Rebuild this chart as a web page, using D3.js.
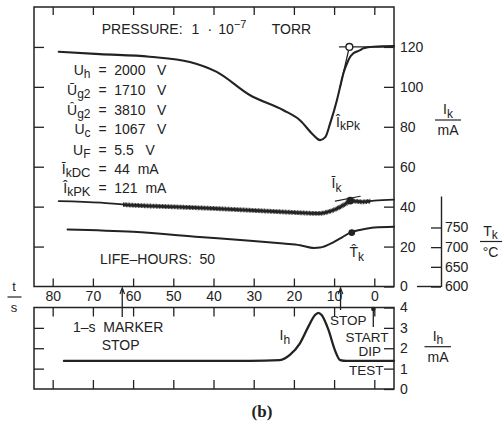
<!DOCTYPE html>
<html>
<head>
<meta charset="utf-8">
<script src="https://cdn.jsdelivr.net/npm/d3@7/dist/d3.min.js"></script>
<style>
  body { margin: 0; background: #fff; }
  svg text { font-family: "Liberation Sans", Arial, sans-serif; fill: #222; }
</style>
</head>
<body>
<svg id="chart" width="504" height="426"></svg>
<script>
// ---- axis ticks ----
const timeTicks = [80, 70, 60, 50, 40, 30, 20, 10, 0];          // t / s
const ikTicks   = [0, 20, 40, 60, 80, 100, 120];                // I_k / mA
const tempTicks = [600, 650, 700, 750];                         // T_k / °C
const ihTicks   = [0, 1, 2, 3, 4];                              // I_h / mA

// ---- cathode peak current Î_k (mA) vs time (s) ----
const ikPeakT = [78.5, 68.3, 55.9, 45.9, 39.2, 30.9, 22.6, 18.5, 15.1, 13.5, 12.2, 11.0, 9.3, 8.5, 7.7, 6.8, 6.0, 5.2, 3.5, 2.7, 0.2, -4.9];
const ikPeakV = [117.6, 116.4, 115.1, 112.5, 107.5, 95.8, 88.3, 83.3, 75.8, 73.3, 74.8, 81.6, 93.3, 100, 106.7, 111.7, 115.1, 116.8, 118.4, 119.3, 120.1, 120.4];

// construction for Î_kPk: tangent to the rising edge and the 120 mA level
const ikPeakTangentT = [8.5, 6.2];
const ikPeakTangentV = [100, 120];
const ikPeakLevelT = [8.65, -4.9];
const ikPeakLevelV = [120, 120];
const ikPeakMarkT = 6.2, ikPeakMarkV = 120;

// ---- mean cathode current Ī_k (mA) ----
const ikMeanT = [78.5, 68, 62.2, 50, 40, 30, 20, 14, 10, 7, 6, 3, 0, -4.9];
const ikMeanV = [42.8, 42.0, 41.0, 39.9, 39.1, 38.1, 37.1, 36.6, 38.4, 41.6, 42.9, 42.4, 43.0, 43.5];
const ikMeanRippleFrom = 62.5, ikMeanRippleTo = 1;   // span with ripple on the trace
const ikMeanMarkT = 6, ikMeanMarkV = 43.0;
const ikMeanBarT = [9.7, 3.5];
const ikMeanBarV = [42.8, 45.2];

// ---- peak cathode temperature T̂_k (°C) ----
const tkT = [76.3, 60, 43.5, 30.9, 22.6, 18.5, 15, 13.5, 10.1, 8, 6, 3, 0, -4.9];
const tkV = [745, 739, 726, 716, 709, 705, 698, 699, 713, 725, 737, 745, 750, 752];
const tkMarkT = 5.6, tkMarkV = 737;

// ---- heater current I_h (mA) ----
const ihT = [77.2, 30.9, 23.5, 21.0, 18.5, 16.4, 14.75, 13.9, 13.1, 11.4, 9.8, 8.5, 6.9, -4.9];
const ihV = [1.38, 1.38, 1.42, 1.67, 2.24, 3.06, 3.63, 3.74, 3.63, 2.9, 1.91, 1.42, 1.38, 1.38];

// event markers on the time axis
const markerStopT = [62.7, 8.4];   // 1-s marker stop, stop
const startT = 0.25;

// operating parameters
const paramSym  = ["U", "Ū", "Û", "U", "U", "Ī", "Î"];
const paramSub  = ["h", "g2", "g2", "c", "F", "k", "k"];
const paramSuf  = ["", "", "", "", "", "DC", "PK"];
const paramVal  = ["2000", "1710", "3810", "1067", "5.5", "44", "121"];
const paramUnit = ["V", "V", "V", "V", "V", "mA", "mA"];

// ---- layout ----
const INK = "#222";
const FONT = '"Liberation Sans", Arial, sans-serif';
const L = 34, R = 394;           // panel left / right
const T1 = 7, B1 = 286.5;        // upper panel
const T2 = 307.5, B2 = 389;      // lower panel

const x  = d3.scaleLinear().domain([84.65, -4.9]).range([L, R]);
const yK = d3.scaleLinear().domain([0, 140]).range([B1, T1]);
const yT = d3.scaleLinear().domain([600, 830]).range([B1, 196]);
const yH = d3.scaleLinear().domain([0, 4]).range([B2, T2]);

const svg = d3.select("#chart");

function styleAxis(g) {
  g.attr("font-size", 14).attr("font-family", FONT).attr("color", INK);
  g.selectAll(".tick line").attr("stroke-width", 1.3);
}
function noDomain(g) { g.select(".domain").remove(); }

// ---- upper panel frame and ticks ----
svg.append("rect").attr("x", L).attr("y", T1).attr("width", R - L).attr("height", B1 - T1)
  .attr("fill", "none").attr("stroke", INK).attr("stroke-width", 1.5);

svg.append("g").attr("transform", `translate(0,${T1})`)
  .call(d3.axisTop(x).tickValues(timeTicks).tickSize(-8).tickFormat(""))
  .call(styleAxis).call(noDomain);
svg.append("g").attr("transform", `translate(0,${B1})`)
  .call(d3.axisBottom(x).tickValues(timeTicks).tickSize(-8).tickPadding(5).tickFormat(d3.format("d")))
  .call(styleAxis).call(noDomain);
svg.append("g").attr("transform", `translate(${L},0)`)
  .call(d3.axisLeft(yK).tickValues(ikTicks.filter(v => v > 0)).tickSize(-10).tickFormat(""))
  .call(styleAxis).call(noDomain);
svg.append("g").attr("transform", `translate(${R},0)`)
  .call(d3.axisRight(yK).tickValues(ikTicks).tickSize(-10).tickPadding(6).tickFormat(d3.format("d")))
  .call(styleAxis).call(noDomain);

// temperature axis
const tAx = svg.append("g").attr("transform", "translate(441,0)")
  .call(d3.axisRight(yT).tickValues(tempTicks).tickSize(-10).tickSizeOuter(0).tickPadding(4).tickFormat(d3.format("d")))
  .call(styleAxis);
tAx.select(".domain").attr("stroke-width", 1.4);
svg.append("line").attr("x1", 417).attr("x2", 441).attr("y1", yT(600)).attr("y2", yT(600))
  .attr("stroke", INK).attr("stroke-width", 1.4);

// ---- lower panel frame and ticks ----
svg.append("rect").attr("x", L).attr("y", T2).attr("width", R - L).attr("height", B2 - T2)
  .attr("fill", "none").attr("stroke", INK).attr("stroke-width", 1.5);
svg.append("g").attr("transform", `translate(0,${T2})`)
  .call(d3.axisTop(x).tickValues(timeTicks).tickSize(-9).tickFormat(""))
  .call(styleAxis).call(noDomain);
svg.append("g").attr("transform", `translate(0,${B2})`)
  .call(d3.axisBottom(x).tickValues(timeTicks).tickSize(-9).tickFormat(""))
  .call(styleAxis).call(noDomain);
svg.append("g").attr("transform", `translate(${L},0)`)
  .call(d3.axisLeft(yH).tickValues(ihTicks.filter(v => v > 0 && v < 4)).tickSize(-10).tickFormat(""))
  .call(styleAxis).call(noDomain);
svg.append("g").attr("transform", `translate(${R},0)`)
  .call(d3.axisRight(yH).tickValues(ihTicks).tickSize(-10).tickPadding(6).tickFormat(d3.format("d")))
  .call(styleAxis).call(noDomain);

// ---- curves ----
const zip = (ts, vs) => ts.map((t, i) => [t, vs[i]]);
const lineK = d3.line().x(d => x(d[0])).y(d => yK(d[1])).curve(d3.curveMonotoneX);
const lineT = d3.line().x(d => x(d[0])).y(d => yT(d[1])).curve(d3.curveMonotoneX);
const lineH = d3.line().x(d => x(d[0])).y(d => yH(d[1])).curve(d3.curveMonotoneX);
const straightK = d3.line().x(d => x(d[0])).y(d => yK(d[1]));

function trace(path, width) {
  return svg.append("path").attr("d", path).attr("fill", "none")
    .attr("stroke", INK).attr("stroke-width", width)
    .attr("stroke-linejoin", "round").attr("stroke-linecap", "round");
}

trace(lineK(zip(ikPeakT, ikPeakV)), 2.1);
trace(straightK(zip(ikPeakTangentT, ikPeakTangentV)), 1.3);
trace(straightK(zip(ikPeakLevelT, ikPeakLevelV)), 1.3);
svg.append("circle").attr("cx", x(ikPeakMarkT)).attr("cy", yK(ikPeakMarkV)).attr("r", 3.4)
  .attr("fill", "#fff").attr("stroke", INK).attr("stroke-width", 1.4);

// mean current with ripple band
const ikMeanPath = lineK(zip(ikMeanT, ikMeanV));
trace(ikMeanPath, 1.8);
svg.append("clipPath").attr("id", "ripple")
  .append("rect").attr("x", x(ikMeanRippleFrom)).attr("y", T1)
  .attr("width", x(ikMeanRippleTo) - x(ikMeanRippleFrom)).attr("height", B1 - T1);
svg.append("path").attr("d", ikMeanPath).attr("fill", "none").attr("clip-path", "url(#ripple)")
  .attr("stroke", INK).attr("stroke-width", 4.8).attr("stroke-dasharray", "0.8 0.7");
svg.append("path").attr("d", ikMeanPath).attr("fill", "none").attr("clip-path", "url(#ripple)")
  .attr("stroke", INK).attr("stroke-width", 3).attr("stroke-opacity", 0.85);
trace(straightK(zip(ikMeanBarT, ikMeanBarV)), 1.2);
svg.append("circle").attr("cx", x(ikMeanMarkT)).attr("cy", yK(ikMeanMarkV)).attr("r", 3.8).attr("fill", INK);

// temperature
trace(lineT(zip(tkT, tkV)), 2.0);
svg.append("circle").attr("cx", x(tkMarkT)).attr("cy", yT(tkMarkV)).attr("r", 3.4).attr("fill", INK);

// heater current
trace(lineH(zip(ihT, ihV)), 2.3);

// ---- event markers ----
const arrowLen = [T2 + 9.5, T2 + 2.5];
markerStopT.forEach((t, i) => {
  const xm = x(t);
  svg.append("line").attr("x1", xm).attr("x2", xm).attr("y1", B1 + 3).attr("y2", arrowLen[i])
    .attr("stroke", INK).attr("stroke-width", 1.3);
  svg.append("path").attr("d", `M${xm - 2.3},${B1 + 7.5}L${xm},${B1 + 1.5}L${xm + 2.3},${B1 + 7.5}`)
    .attr("fill", "none").attr("stroke", INK).attr("stroke-width", 1.2);
});
svg.append("line").attr("x1", x(startT)).attr("x2", x(startT)).attr("y1", T2 + 1).attr("y2", T2 + 19.5)
  .attr("stroke", INK).attr("stroke-width", 1.3);
svg.append("circle").attr("cx", x(startT)).attr("cy", T2 + 1.5).attr("r", 2.2).attr("fill", INK);

// ---- text ----
function label(xp, yp, parts, opts = {}) {
  const t = svg.append("text").attr("x", xp).attr("y", yp)
    .attr("font-size", opts.size || 14).attr("text-anchor", opts.anchor || "start")
    .style("white-space", "pre");
  parts.forEach(p => {
    const s = t.append("tspan").text(p.t);
    if (p.size) s.attr("font-size", p.size);
    if (p.dy) s.attr("dy", p.dy);
    if (p.dx) s.attr("dx", p.dx);
  });
  return t;
}

// pressure line
label(101.7, 34.3, [{t: "PRESSURE:"}]);
label(191.5, 34.3, [{t: "1"}]);
label(207.5, 34.3, [{t: "·"}]);
label(218.3, 34.3, [{t: "10"}, {t: "−7", size: 11, dy: -6}]);
label(271.7, 34.3, [{t: "TORR"}]);

// operating parameters
const rowY = [75, 95, 114.5, 133.5, 155, 174, 192.5];
paramSym.forEach((s, i) => {
  const parts = [{t: s}, {t: paramSub[i], size: 12, dy: 3}];
  if (paramSuf[i]) parts.push({t: paramSuf[i], size: 13});
  label(90.5, rowY[i], parts, {anchor: "end"});
  label(102.5, rowY[i], [{t: "="}], {anchor: "middle"});
  label(114.3, rowY[i], [{t: paramVal[i] + (paramUnit[i] === "V" ? "   " : "  ") + paramUnit[i]}]);
});

label(100, 264.3, [{t: "LIFE–HOURS:  50"}]);

// curve names
label(336, 126.5, [{t: "Î"}, {t: "kPk", size: 12, dy: 3.5}]);
label(331.5, 188, [{t: "Ī"}, {t: "k", size: 12, dy: 4}]);
label(349.5, 257, [{t: "T̂"}, {t: "k", size: 12, dy: 3.5}]);
label(279.5, 340, [{t: "I"}, {t: "h", size: 12, dy: 3.5}]);

// lower panel notes
label(73, 332.3, [{t: "1–s  MARKER"}]);
label(101.7, 350, [{t: "STOP"}]);
label(330, 324.5, [{t: "STOP"}], {size: 13.5});
label(388.5, 342, [{t: "START"}], {anchor: "end", size: 13.5});
label(381, 356.3, [{t: "DIP"}], {anchor: "end", size: 13.5});
label(383.5, 374.5, [{t: "TEST"}], {anchor: "end", size: 13.5});

// unit fractions
function fraction(cx, ln, top, bottom, x0, x1) {
  label(cx, ln - 6, top, {anchor: "middle"});
  svg.append("line").attr("x1", x0).attr("x2", x1).attr("y1", ln).attr("y2", ln)
    .attr("stroke", INK).attr("stroke-width", 1.2);
  label(cx, ln + 15, bottom, {anchor: "middle"});
}
fraction(448, 120, [{t: "I"}, {t: "k", size: 12, dy: 3.5}], [{t: "mA"}], 435, 461);
fraction(490.5, 241.5, [{t: "T"}, {t: "k", size: 12, dy: 3.5}], [{t: "°C"}], 480, 502);
fraction(438, 346.7, [{t: "I"}, {t: "h", size: 12, dy: 3.5}], [{t: "mA"}], 424.5, 451);
fraction(14, 297, [{t: "t", size: 13}], [{t: "s", size: 13}], 7.5, 21.5);

svg.append("text").attr("x", 262).attr("y", 417).attr("text-anchor", "middle")
  .attr("font-size", 17).attr("font-weight", "bold")
  .style("font-family", '"Liberation Serif", "DejaVu Serif", serif')
  .text("(b)");
</script>
</body>
</html>
